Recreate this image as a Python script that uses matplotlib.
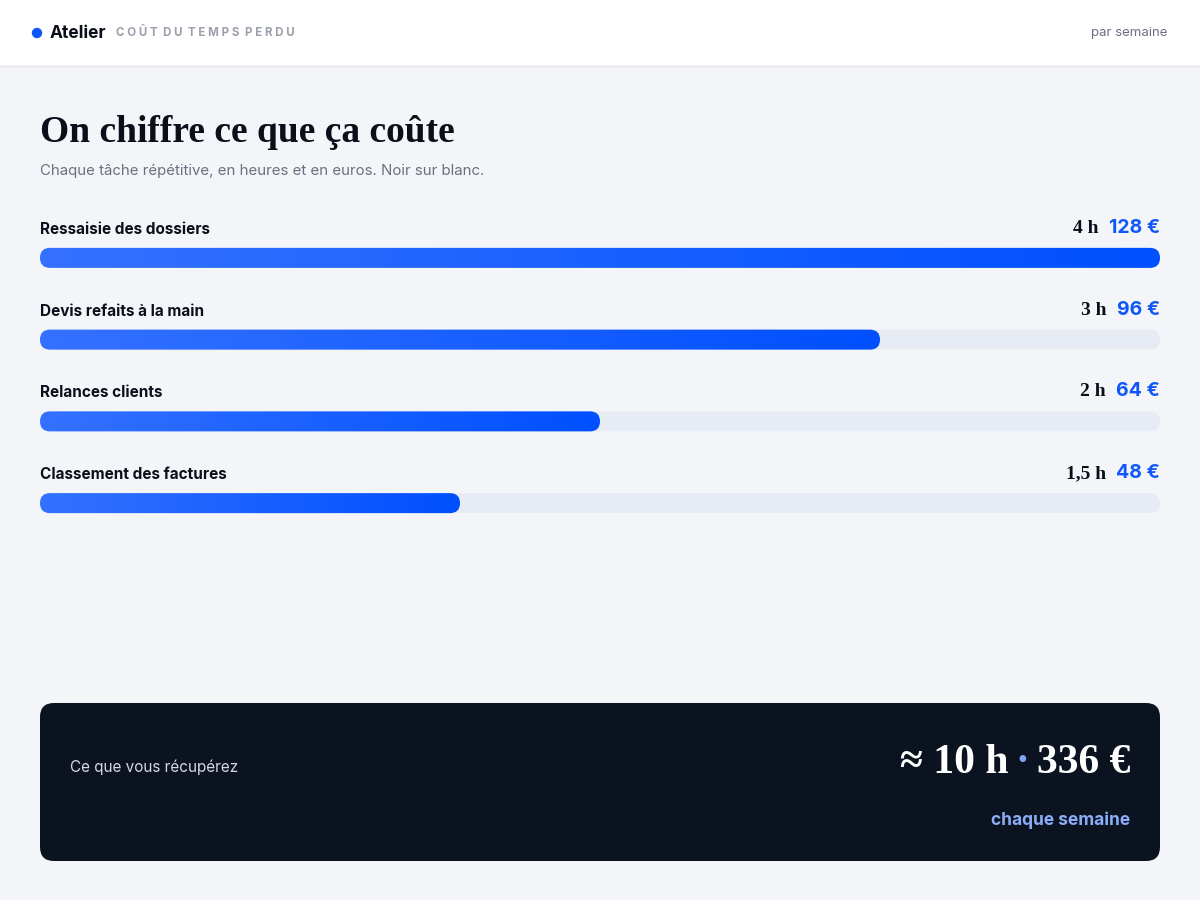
import numpy as np
import matplotlib
matplotlib.use('Agg')
import matplotlib.pyplot as plt
from matplotlib.patches import FancyBboxPatch, Rectangle, Circle
from matplotlib.colors import LinearSegmentedColormap
from matplotlib.transforms import IdentityTransform

# données
taches = ['Ressaisie des dossiers', 'Devis refaits à la main', 'Relances clients', 'Classement des factures']
heures = ['4 h', '3 h', '2 h', '1,5 h']
euros = [128, 96, 64, 48]
total_heures = '≈ 10 h'
total_euros = '336 €'

SANS = ['Inter', 'DejaVu Sans']
SERIF = ['Liberation Serif', 'DejaVu Serif']
BG = '#f3f5f9'
INK = '#0b0f19'
BLUE = '#0f56fb'

W, H = 1200, 900
fig = plt.figure(figsize=(12, 9), dpi=100)
fig.patch.set_facecolor(BG)

# axe de fond en pixels
ax = fig.add_axes([0, 0, 1, 1])
ax.set_xlim(0, W)
ax.set_ylim(H, 0)
ax.axis('off')

# en-tête
ax.add_patch(Rectangle((0, 0), W, 65, facecolor='white', edgecolor='none'))
ax.plot([0, W], [65.5, 65.5], color='#e6e8ee', lw=1)
ax.add_patch(Circle((37, 33), 4.5, color=BLUE))
t_atelier = ax.text(50, 33, 'Atelier', family=SANS, weight='bold', fontsize=12.5,
                    color=INK, va='center', ha='left')
ax.annotate('C O Û T  D U  T E M P S  P E R D U', xy=(1, 0.5), xycoords=t_atelier,
            xytext=(9, 0), textcoords='offset pixels', family=SANS, weight='bold',
            fontsize=8.3, color='#9ca0ab', va='center', ha='left')
ax.text(1167, 33, 'par semaine', family=SANS, fontsize=9.5, color='#6b7080',
        va='center', ha='right')

# titre
ax.text(40, 133, 'On chiffre ce que ça coûte', family=SERIF, weight='bold',
        fontsize=27, color=INK, va='center', ha='left')
ax.text(40, 171, 'Chaque tâche répétitive, en heures et en euros. Noir sur blanc.',
        family=SANS, fontsize=10.8, color='#6b7080', va='center', ha='left')

# barres
top, row_h = 217, 81.75
n = len(taches)
bax = fig.add_axes([40 / W, 1 - (top + n * row_h) / H, 1120 / W, n * row_h / H])
bax.axis('off')
xmax = max(euros)
bax.set_xlim(0, xmax)
bax.set_ylim(n - 0.5, -0.5)
bar_px = 20
ident = IdentityTransform()

cmap = LinearSegmentedColormap.from_list('bleu', ['#3471ff', '#0050ff'])
grad = np.linspace(0, 1, 256).reshape(1, -1)

for i, (tache, h, e) in enumerate(zip(taches, heures, euros)):
    x0, yc = bax.transData.transform((0, i))
    xt = bax.transData.transform((xmax, i))[0]
    xe = bax.transData.transform((e, i))[0]
    track = FancyBboxPatch((x0, yc - bar_px / 2), xt - x0, bar_px,
                           boxstyle='round,pad=0,rounding_size=10', transform=ident,
                           facecolor='#e6ebf4', edgecolor='none', zorder=1)
    bax.add_patch(track)
    clip = FancyBboxPatch((x0, yc - bar_px / 2), xe - x0, bar_px,
                          boxstyle='round,pad=0,rounding_size=10', transform=ident,
                          facecolor='none', edgecolor='none', zorder=1)
    bax.add_patch(clip)
    im = bax.imshow(grad, extent=(0, e, i + 0.2, i - 0.2), cmap=cmap,
                    aspect='auto', interpolation='bilinear', zorder=2)
    im.set_clip_path(clip)

    bax.text(0, i - 28.5 / row_h, tache, family=SANS, weight='bold', fontsize=11,
             color=INK, va='center', ha='left')
    t_e = bax.text(xmax, i - 30 / row_h, f'{e} €', family=SANS, weight='bold',
                   fontsize=14, color=BLUE, va='center', ha='right')
    bax.annotate(h, xy=(0, 0), xycoords=t_e, xytext=(-10, 0), textcoords='offset pixels',
                 family=SERIF, weight='bold', fontsize=14, color=INK,
                 va='bottom', ha='right')

bax.set_xlim(0, xmax)
bax.set_ylim(n - 0.5, -0.5)

# encart total
ax.add_patch(FancyBboxPatch((40, 703), 1120, 158, boxstyle='round,pad=0,rounding_size=14',
                            facecolor='#0c1320', edgecolor='none'))
ax.text(70, 767, 'Ce que vous récupérez', family=SANS, fontsize=11,
        color='#d5d8de', va='center', ha='left')
t_tot = ax.text(1130, 773, total_euros, family=SERIF, weight='bold', fontsize=30,
                color='white', va='baseline', ha='right')
t_dot = ax.annotate('·', xy=(0, 0), xycoords=t_tot, xytext=(-7, 0), textcoords='offset pixels',
                    family=SERIF, weight='bold', fontsize=30, color='#7fa4f5',
                    va='bottom', ha='right')
ax.annotate(total_heures, xy=(0, 0), xycoords=t_dot, xytext=(-7, 0), textcoords='offset pixels',
            family=SERIF, weight='bold', fontsize=30, color='white', va='bottom', ha='right')
ax.text(1130, 820, 'chaque semaine', family=SANS, weight='bold', fontsize=12.5,
        color='#8bacf6', va='center', ha='right')

fig.savefig('out.png', dpi=100, facecolor=BG)
